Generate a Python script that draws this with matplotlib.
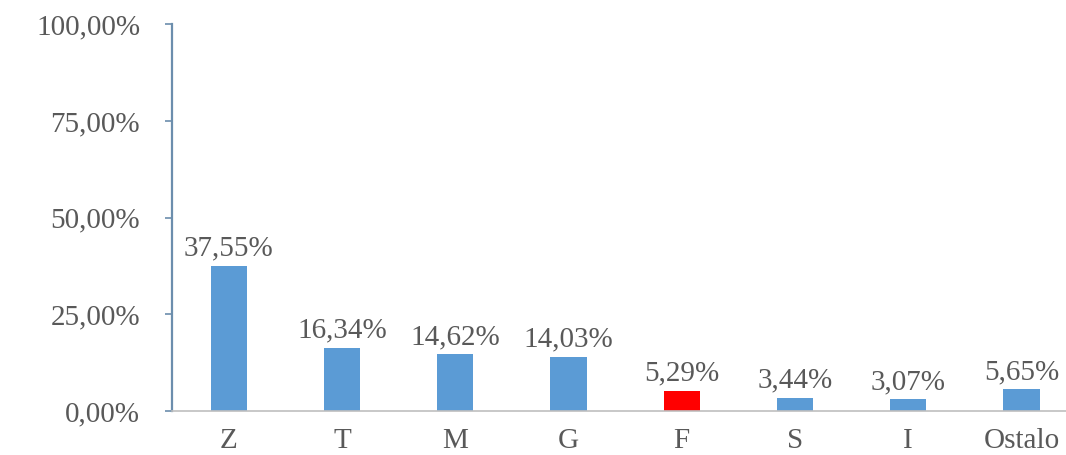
import matplotlib
matplotlib.use("Agg")
import matplotlib.pyplot as plt
from matplotlib.ticker import FuncFormatter

categories = ["Z", "T", "M", "G", "F", "S", "I", "Ostalo"]
values = [37.55, 16.34, 14.62, 14.03, 5.29, 3.44, 3.07, 5.65]
highlight = "F"
y_ticks = [0, 25, 50, 75, 100]

BLUE = "#5B9BD5"
RED = "#FF0000"
TEXT = "#595959"


def pct(v):
    return f"{v:.2f}%".replace(".", ",")


plt.rcParams["font.family"] = ["Liberation Serif", "DejaVu Serif"]

fig = plt.figure(figsize=(10.66, 4.55), dpi=100)
ax = fig.add_axes([0.1614, 0.0967, 0.85, 0.850])

colors = [RED if c == highlight else BLUE for c in categories]
x = range(len(categories))
bars = ax.bar(x, values, width=0.32, color=colors, zorder=2)

for rect, v in zip(bars, values):
    ax.annotate(pct(v), (rect.get_x() + rect.get_width() / 2, v),
                xytext=(0, 3), textcoords="offset points",
                ha="center", va="bottom", fontsize=21, color=TEXT)

ax.set_xlim(-0.5, len(categories) - 0.5)
ax.set_ylim(0, 100)
ax.set_yticks(y_ticks)
ax.yaxis.set_major_formatter(FuncFormatter(lambda v, _: pct(v)))
ax.set_xticks(list(x))
ax.set_xticklabels(categories)

for s in ["top", "right"]:
    ax.spines[s].set_visible(False)
ax.spines["left"].set_color("#6C8EAD")
ax.spines["left"].set_linewidth(1.6)
ax.spines["bottom"].set_color("#BFBFBF")
ax.spines["bottom"].set_linewidth(1.2)

ax.tick_params(axis="y", length=5, width=1.2, color="#6C8EAD",
               labelsize=21, labelcolor=TEXT, pad=18)
ax.tick_params(axis="x", length=0, labelsize=21, labelcolor=TEXT, pad=12)

fig.savefig("out.png", dpi=100)
